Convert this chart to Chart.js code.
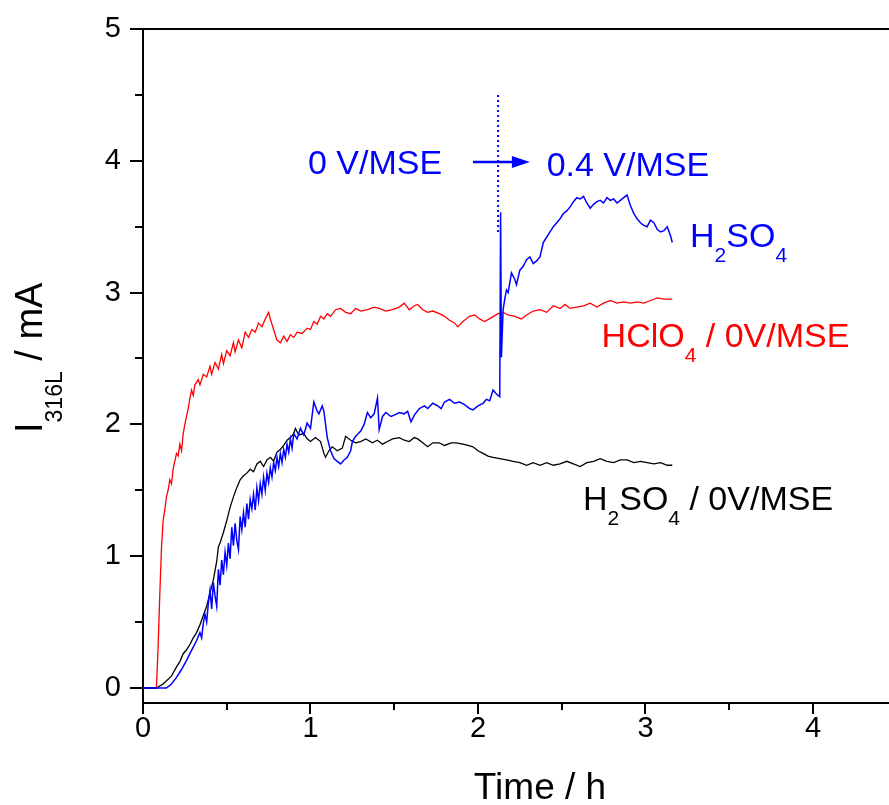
<!DOCTYPE html>
<html>
<head>
<meta charset="utf-8">
<script src="https://cdn.jsdelivr.net/npm/chart.js@4.4.1/dist/chart.umd.min.js"></script>
<style>
  html, body { margin: 0; padding: 0; background: #fff; overflow: hidden; }
</style>
</head>
<body>
<canvas id="chart" width="889" height="805"></canvas>
<script>
// HClO4 at 0 V/MSE (red)
const redT = [0, 0.08, 0.09, 0.10, 0.11, 0.12, 0.13, 0.14, 0.15, 0.16, 0.17, 0.18, 0.19, 0.20, 0.21, 0.22, 0.23, 0.24, 0.25, 0.26,
  0.27, 0.28, 0.29, 0.30, 0.31, 0.33, 0.34, 0.36, 0.38, 0.40, 0.41, 0.43, 0.45, 0.47, 0.48, 0.50, 0.52, 0.54, 0.55, 0.57,
  0.59, 0.61, 0.63, 0.65, 0.67, 0.69, 0.71, 0.73, 0.75, 0.76, 0.78, 0.80, 0.82, 0.84, 0.86, 0.88, 0.90, 0.92, 0.95, 0.98,
  1.00, 1.02, 1.04, 1.06, 1.08, 1.10, 1.12, 1.15, 1.18, 1.21, 1.24, 1.27, 1.30, 1.34, 1.38, 1.41, 1.45, 1.49, 1.53, 1.56,
  1.59, 1.62, 1.64, 1.67, 1.70, 1.73, 1.77, 1.80, 1.83, 1.86, 1.88, 1.91, 1.95, 1.98, 2.01, 2.04, 2.08, 2.12, 2.15, 2.18,
  2.22, 2.26, 2.29, 2.33, 2.37, 2.41, 2.45, 2.49, 2.52, 2.55, 2.59, 2.63, 2.67, 2.71, 2.75, 2.79, 2.83, 2.87, 2.91, 2.95,
  2.99, 3.03, 3.07, 3.11, 3.16];
const redI = [0, 0, 0.30, 0.70, 1.05, 1.27, 1.35, 1.45, 1.50, 1.58, 1.55, 1.66, 1.72, 1.78, 1.76, 1.85, 1.80, 1.93, 2.00, 2.06,
  2.12, 2.20, 2.26, 2.22, 2.30, 2.34, 2.30, 2.38, 2.36, 2.44, 2.38, 2.47, 2.42, 2.53, 2.46, 2.56, 2.52, 2.62, 2.55, 2.64,
  2.58, 2.70, 2.66, 2.72, 2.70, 2.77, 2.74, 2.80, 2.85, 2.80, 2.72, 2.64, 2.62, 2.67, 2.63, 2.68, 2.66, 2.70, 2.69, 2.73,
  2.72, 2.78, 2.76, 2.82, 2.80, 2.84, 2.82, 2.87, 2.88, 2.85, 2.84, 2.88, 2.86, 2.87, 2.89, 2.88, 2.86, 2.87, 2.89, 2.92,
  2.87, 2.90, 2.91, 2.87, 2.85, 2.86, 2.84, 2.82, 2.79, 2.77, 2.74, 2.78, 2.82, 2.83, 2.80, 2.78, 2.81, 2.84, 2.85, 2.83,
  2.82, 2.80, 2.83, 2.86, 2.87, 2.85, 2.90, 2.88, 2.91, 2.88, 2.89, 2.90, 2.92, 2.89, 2.92, 2.94, 2.92, 2.93, 2.92, 2.93,
  2.92, 2.94, 2.96, 2.95, 2.95];

// H2SO4 at 0 V/MSE (black)
const blackT = [0, 0.08, 0.12, 0.17, 0.20, 0.22, 0.24, 0.26, 0.28, 0.30, 0.32, 0.34, 0.36, 0.38, 0.40, 0.42, 0.44, 0.45, 0.46, 0.48,
  0.50, 0.52, 0.54, 0.56, 0.58, 0.60, 0.62, 0.64, 0.66, 0.68, 0.70, 0.72, 0.74, 0.76, 0.78, 0.80, 0.82, 0.84, 0.86, 0.88,
  0.90, 0.91, 0.93, 0.96, 0.98, 1.00, 1.03, 1.06, 1.08, 1.09, 1.11, 1.13, 1.16, 1.19, 1.21, 1.24, 1.27, 1.30, 1.33, 1.37,
  1.40, 1.43, 1.46, 1.49, 1.53, 1.56, 1.59, 1.62, 1.64, 1.67, 1.70, 1.73, 1.77, 1.80, 1.84, 1.87, 1.91, 1.94, 1.97, 2.00,
  2.03, 2.06, 2.09, 2.13, 2.17, 2.21, 2.25, 2.29, 2.33, 2.37, 2.41, 2.45, 2.49, 2.53, 2.57, 2.61, 2.65, 2.69, 2.73, 2.77,
  2.81, 2.85, 2.89, 2.93, 2.97, 3.01, 3.05, 3.09, 3.13, 3.16];
const blackI = [0, 0, 0.03, 0.09, 0.16, 0.20, 0.26, 0.29, 0.33, 0.38, 0.42, 0.48, 0.55, 0.62, 0.72, 0.82, 0.96, 1.07, 1.10, 1.18,
  1.27, 1.37, 1.45, 1.52, 1.58, 1.61, 1.63, 1.66, 1.64, 1.70, 1.72, 1.68, 1.73, 1.75, 1.72, 1.79, 1.81, 1.84, 1.88, 1.90,
  1.93, 1.97, 1.92, 1.93, 1.89, 1.87, 1.90, 1.87, 1.78, 1.75, 1.80, 1.83, 1.80, 1.82, 1.91, 1.88, 1.86, 1.87, 1.89, 1.86,
  1.88, 1.85, 1.87, 1.89, 1.90, 1.88, 1.87, 1.90, 1.89, 1.86, 1.83, 1.86, 1.86, 1.84, 1.86, 1.86, 1.85, 1.84, 1.83, 1.80,
  1.78, 1.76, 1.75, 1.74, 1.73, 1.72, 1.71, 1.69, 1.71, 1.69, 1.71, 1.69, 1.70, 1.72, 1.70, 1.68, 1.71, 1.72, 1.74, 1.72,
  1.71, 1.73, 1.73, 1.71, 1.72, 1.71, 1.70, 1.71, 1.69, 1.69];

// H2SO4, 0 V/MSE then 0.4 V/MSE (blue)
const blueT = [0, 0.14, 0.17, 0.20, 0.23, 0.26, 0.28, 0.30, 0.32, 0.34, 0.35, 0.36, 0.37, 0.38, 0.39, 0.40, 0.41, 0.42, 0.43, 0.44,
  0.45, 0.46, 0.47, 0.48, 0.49, 0.50, 0.51, 0.52, 0.53, 0.54, 0.55, 0.56, 0.57, 0.58, 0.59, 0.60, 0.61, 0.62, 0.63, 0.64,
  0.65, 0.66, 0.67, 0.68, 0.69, 0.70, 0.71, 0.72, 0.73, 0.74, 0.75, 0.76, 0.77, 0.78, 0.79, 0.80, 0.81, 0.82, 0.83, 0.84,
  0.85, 0.86, 0.87, 0.88, 0.89, 0.90, 0.92, 0.94, 0.96, 0.98, 1.00, 1.02, 1.04, 1.05, 1.07, 1.08, 1.09, 1.10, 1.12, 1.14,
  1.16, 1.18, 1.20, 1.22, 1.24, 1.25, 1.27, 1.30, 1.32, 1.34, 1.36, 1.38, 1.40, 1.41, 1.43, 1.45, 1.48, 1.50, 1.53, 1.56,
  1.58, 1.60, 1.62, 1.65, 1.68, 1.70, 1.73, 1.76, 1.78, 1.80, 1.83, 1.86, 1.89, 1.92, 1.95, 1.97, 2.00, 2.03, 2.05, 2.07,
  2.09, 2.11, 2.13, 2.135, 2.14, 2.15, 2.16, 2.17, 2.18, 2.20, 2.22, 2.23, 2.25, 2.27, 2.29, 2.31, 2.33, 2.35, 2.37, 2.39,
  2.41, 2.43, 2.45, 2.47, 2.49, 2.51, 2.53, 2.55, 2.57, 2.59, 2.61, 2.63, 2.65, 2.67, 2.69, 2.71, 2.73, 2.75, 2.77, 2.79,
  2.81, 2.83, 2.85, 2.87, 2.89, 2.91, 2.93, 2.95, 2.97, 2.99, 3.01, 3.03, 3.05, 3.07, 3.09, 3.11, 3.13, 3.15, 3.16];
const blueI = [0, 0, 0.03, 0.08, 0.14, 0.21, 0.26, 0.31, 0.36, 0.42, 0.38, 0.49, 0.56, 0.50, 0.64, 0.74, 0.60, 0.80, 0.70, 0.62,
  0.90, 0.78, 0.97, 0.86, 1.03, 0.93, 1.10, 0.98, 1.22, 1.08, 1.25, 1.12, 1.05, 1.30, 1.20, 1.33, 1.22, 1.40, 1.28, 1.43,
  1.36, 1.47, 1.35, 1.52, 1.42, 1.55, 1.47, 1.60, 1.50, 1.63, 1.56, 1.67, 1.60, 1.71, 1.65, 1.75, 1.68, 1.78, 1.71, 1.81,
  1.75, 1.85, 1.79, 1.89, 1.82, 1.93, 1.89, 1.97, 1.92, 2.01, 1.97, 2.17, 2.10, 2.08, 2.14, 2.10, 2.00, 1.90, 1.80, 1.74,
  1.72, 1.70, 1.73, 1.75, 1.80, 1.87, 1.91, 1.95, 2.00, 2.09, 2.05, 2.08, 2.20, 1.96, 2.06, 2.09, 2.06, 2.07, 2.09, 2.08,
  2.10, 2.02, 2.07, 2.12, 2.14, 2.12, 2.16, 2.14, 2.12, 2.17, 2.19, 2.16, 2.17, 2.15, 2.12, 2.11, 2.14, 2.16, 2.19, 2.18,
  2.26, 2.23, 2.21, 3.61, 2.51, 2.87, 2.95, 3.02, 3.00, 3.15, 3.10, 3.06, 3.17, 3.20, 3.25, 3.27, 3.22, 3.24, 3.27, 3.38,
  3.42, 3.46, 3.50, 3.53, 3.56, 3.60, 3.62, 3.65, 3.69, 3.72, 3.71, 3.73, 3.68, 3.64, 3.67, 3.69, 3.70, 3.68, 3.72, 3.70,
  3.71, 3.68, 3.70, 3.72, 3.74, 3.66, 3.60, 3.56, 3.53, 3.51, 3.50, 3.55, 3.53, 3.48, 3.46, 3.47, 3.50, 3.43, 3.38];

// potential switch marker (dotted)
const switchT = [2.12, 2.12];
const switchI = [3.46, 4.51];

const xTicks = [0, 0.5, 1, 1.5, 2, 2.5, 3, 3.5, 4];
const yTicks = [0, 0.5, 1, 1.5, 2, 2.5, 3, 3.5, 4, 4.5, 5];

const pts = (t, v) => t.map((x, i) => ({ x: x, y: v[i] }));
const FONT = '"Liberation Sans", Arial, sans-serif';

function richText(ctx, parts, x, y, size, color) {
  // parts: [text, isSubscript]
  const base = y + size * 0.358;
  ctx.fillStyle = color;
  ctx.textBaseline = 'alphabetic';
  ctx.textAlign = 'left';
  let cx = x;
  parts.forEach(([t, sub]) => {
    const s = sub ? Math.round(size * 0.62) : size;
    ctx.font = s + 'px ' + FONT;
    ctx.fillText(t, cx, sub ? base + size * 0.44 : base);
    cx += ctx.measureText(t).width;
  });
}

const labels = [
  { parts: [['0 V/MSE', 0]], t: 0.985, i: 3.99, color: '#0000ff' },
  { parts: [['0.4 V/MSE', 0]], t: 2.41, i: 3.98, color: '#0000ff' },
  { parts: [['H', 0], ['2', 1], ['SO', 0], ['4', 1]], t: 3.266, i: 3.44, color: '#0000ff' },
  { parts: [['HClO', 0], ['4', 1], [' / 0V/MSE', 0]], t: 2.738, i: 2.68, color: '#ff0000' },
  { parts: [['H', 0], ['2', 1], ['SO', 0], ['4', 1], [' / 0V/MSE', 0]], t: 2.627, i: 1.445, color: '#000000' }
];

const decor = {
  id: 'decor',
  afterDraw(chart) {
    const { ctx, chartArea: a, scales: { x, y } } = chart;
    ctx.save();
    // tick marks, outward, minor ones shorter
    ctx.strokeStyle = '#000';
    ctx.lineWidth = 2;
    ctx.beginPath();
    xTicks.forEach(v => {
      const px = Math.round(x.getPixelForValue(v));
      const len = Number.isInteger(v) ? 11 : 7;
      ctx.moveTo(px, a.bottom);
      ctx.lineTo(px, a.bottom + len);
    });
    yTicks.forEach(v => {
      const py = Math.round(y.getPixelForValue(v));
      const len = Number.isInteger(v) ? 13 : 8;
      ctx.moveTo(a.left - len, py);
      ctx.lineTo(a.left, py);
    });
    ctx.stroke();

    // arrow 0 V -> 0.4 V
    const ax0 = x.getPixelForValue(1.97), ax1 = x.getPixelForValue(2.31), ay = y.getPixelForValue(3.99);
    ctx.strokeStyle = '#0000ff';
    ctx.fillStyle = '#0000ff';
    ctx.lineWidth = 2.5;
    ctx.beginPath();
    ctx.moveTo(ax0, ay);
    ctx.lineTo(ax1 - 12, ay);
    ctx.stroke();
    ctx.beginPath();
    ctx.moveTo(ax1, ay);
    ctx.lineTo(ax1 - 18, ay - 6);
    ctx.lineTo(ax1 - 18, ay + 6);
    ctx.closePath();
    ctx.fill();

    labels.forEach(l => richText(ctx, l.parts, x.getPixelForValue(l.t), y.getPixelForValue(l.i), 34, l.color));

    // axis titles
    ctx.fillStyle = '#000';
    ctx.font = '37px ' + FONT;
    ctx.textAlign = 'center';
    ctx.textBaseline = 'alphabetic';
    ctx.fillText('Time / h', 540, a.bottom + 96);

    ctx.translate(42, 433);
    ctx.rotate(-Math.PI / 2);
    ctx.textAlign = 'left';
    let cx = 0;
    ctx.font = '38px ' + FONT;
    ctx.fillText('I', cx, 0);
    cx += ctx.measureText('I').width;
    ctx.font = '23px ' + FONT;
    ctx.fillText('316L', cx, 20);
    cx += ctx.measureText('316L').width;
    ctx.font = '38px ' + FONT;
    ctx.fillText(' / mA', cx, 0);
    ctx.restore();
  }
};

new Chart(document.getElementById('chart'), {
  type: 'line',
  data: {
    datasets: [
      { data: pts(blueT, blueI), borderColor: '#0000ff', borderWidth: 1.5, order: 0 },
      { data: pts(blackT, blackI), borderColor: '#000000', borderWidth: 1.3, order: 1 },
      { data: pts(redT, redI), borderColor: '#ff0000', borderWidth: 1.3, order: 2 },
      { data: pts(switchT, switchI), borderColor: '#0000ff', borderWidth: 2, borderDash: [2, 3], order: 3 }
    ]
  },
  options: {
    responsive: false,
    animation: false,
    layout: { padding: 0 },
    elements: { point: { radius: 0 }, line: { tension: 0, fill: false } },
    plugins: { legend: { display: false }, tooltip: { enabled: false } },
    scales: {
      x: {
        type: 'linear', position: 'bottom', min: 0, max: 4.454,
        afterBuildTicks: s => { s.ticks = xTicks.map(v => ({ value: v })); },
        afterFit: s => { s.height = 102; s.paddingLeft = 0; s.paddingRight = 0; },
        grid: { display: false, drawTicks: false },
        border: { display: true, color: '#000', width: 2 },
        ticks: {
          padding: 9, color: '#000', maxRotation: 0, autoSkip: false,
          font: { family: FONT, size: 29 },
          callback: v => Number.isInteger(v) ? String(v) : ''
        }
      },
      xTop: {
        type: 'linear', position: 'top', min: 0, max: 4.454,
        afterFit: s => { s.height = 29; s.paddingLeft = 0; s.paddingRight = 0; },
        grid: { display: false, drawTicks: false },
        border: { display: true, color: '#000', width: 2 },
        ticks: { display: false }
      },
      y: {
        type: 'linear', position: 'left', min: -0.114, max: 5,
        afterBuildTicks: s => { s.ticks = yTicks.map(v => ({ value: v })); },
        afterFit: s => { s.width = 143; s.paddingTop = 0; s.paddingBottom = 0; },
        grid: { display: false, drawTicks: false },
        border: { display: true, color: '#000', width: 2 },
        ticks: {
          padding: 22, color: '#000', autoSkip: false,
          font: { family: FONT, size: 29 },
          callback: v => Number.isInteger(v) ? String(v) : ''
        }
      }
    }
  },
  plugins: [decor]
});
</script>
</body>
</html>
